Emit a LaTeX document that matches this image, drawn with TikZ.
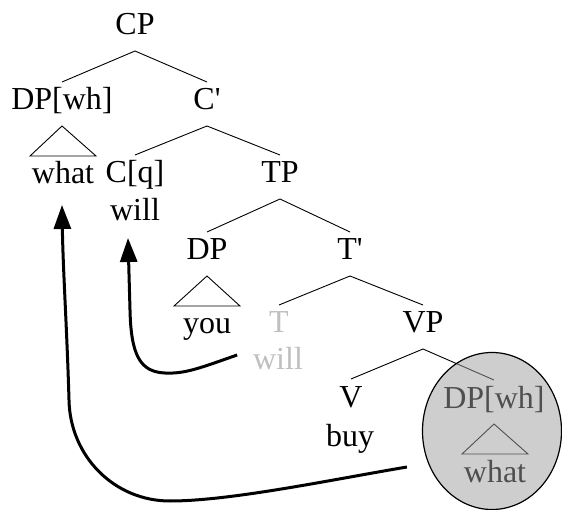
\documentclass[tikz,border=0pt]{standalone}
\usepackage{fontspec}
\setmainfont{Liberation Serif}
\usetikzlibrary{arrows.meta,shapes.geometric}
\begin{document}
\begin{tikzpicture}[x=1pt,y=-1pt,
  font=\fontsize{32pt}{38pt}\selectfont,
  tn/.style={anchor=base, inner sep=0pt, outer xsep=0pt, outer ysep=7pt, text height=21pt, text depth=9pt},
  br/.style={line width=0.9pt},
  mv/.style={line width=3pt, -{Triangle[length=24pt,width=17pt]}},
  ghost/.style={text=black!25}]
\useasboundingbox (0,0) rectangle (562,510);
% nodes
\node[tn] (CP) at (135,35) {CP};
\node[tn] (DPwh) at (62,110) {DP[wh]};
\node[tn] (Cbar) at (207,110) {C\textquotesingle};
\node[tn] (what1) at (63,184) {what};
\node[tn] (Cq) at (135,183) {C[q]};
\node[tn] (willC) at (135,221) {will};
\node[tn] (TP) at (280,183) {TP};
\node[tn] (DP) at (207,260) {DP};
\node[tn] (Tbar) at (350,260) {T\textquotesingle};
\node[tn] (you) at (207,334) {you};
\node[tn,ghost] (T) at (279,333) {T};
\node[tn,ghost] (willT) at (278,370) {will};
\node[tn] (VP) at (423,333) {VP};
\node[tn] (V) at (351,407) {V};
\node[tn] (buy) at (350,446) {buy};
\node[tn] (DPwh2) at (494,408) {DP[wh]};
\node[tn] (what2) at (495,482) {what};
% branches
\draw[br] (CP.south) -- (DPwh.north);
\draw[br] (CP.south) -- (Cbar.north);
\draw[br] (Cbar.south) -- (Cq.north);
\draw[br] (Cbar.south) -- (TP.north);
\draw[br] (TP.south) -- (DP.north);
\draw[br] (TP.south) -- (Tbar.north);
\draw[br] (Tbar.south) -- (T.north);
\draw[br] (Tbar.south) -- (VP.north);
\draw[br] (VP.south) -- (V.north);
\draw[br] (VP.south) -- (DPwh2.north);
% triangles
\draw[br] (DPwh.south) -- ([xshift=-33pt]what1.north) -- ([xshift=33pt]what1.north) -- cycle;
\draw[br] (DP.south) -- ([xshift=-33pt]you.north) -- ([xshift=33pt]you.north) -- cycle;
\draw[br] (DPwh2.south) -- ([xshift=-33pt]what2.north) -- ([xshift=33pt]what2.north) -- cycle;
% highlighted circle
\node[ellipse, draw=black, line width=1.2pt, fill=black!38, fill opacity=0.5, draw opacity=1,
      minimum width=139pt, minimum height=157pt, inner sep=0pt] (circ) at (492,431) {};
% movement arrows
\coordinate (a1s) at ([xshift=-16pt,yshift=15pt]willT.base west);
\coordinate (a1e) at ([xshift=-7pt,yshift=-17pt]willC.base);
\coordinate (a2s) at ([xshift=-57pt,yshift=15pt]what2.base west);
\coordinate (a2e) at ([xshift=-1pt,yshift=-21pt]what1.base);
\draw[mv] (a1s) .. controls (200,368) and (185,374) .. (165,373)
  .. controls (140,372) and (131,355) .. (130,310) -- (a1e);
\draw[mv] (a2s) .. controls (330,480) and (230,501) .. (170,501)
  .. controls (114,501) and (70,456) .. (69,400)
  .. controls (67,330) and (63,270) .. (a2e);
\end{tikzpicture}
\end{document}
